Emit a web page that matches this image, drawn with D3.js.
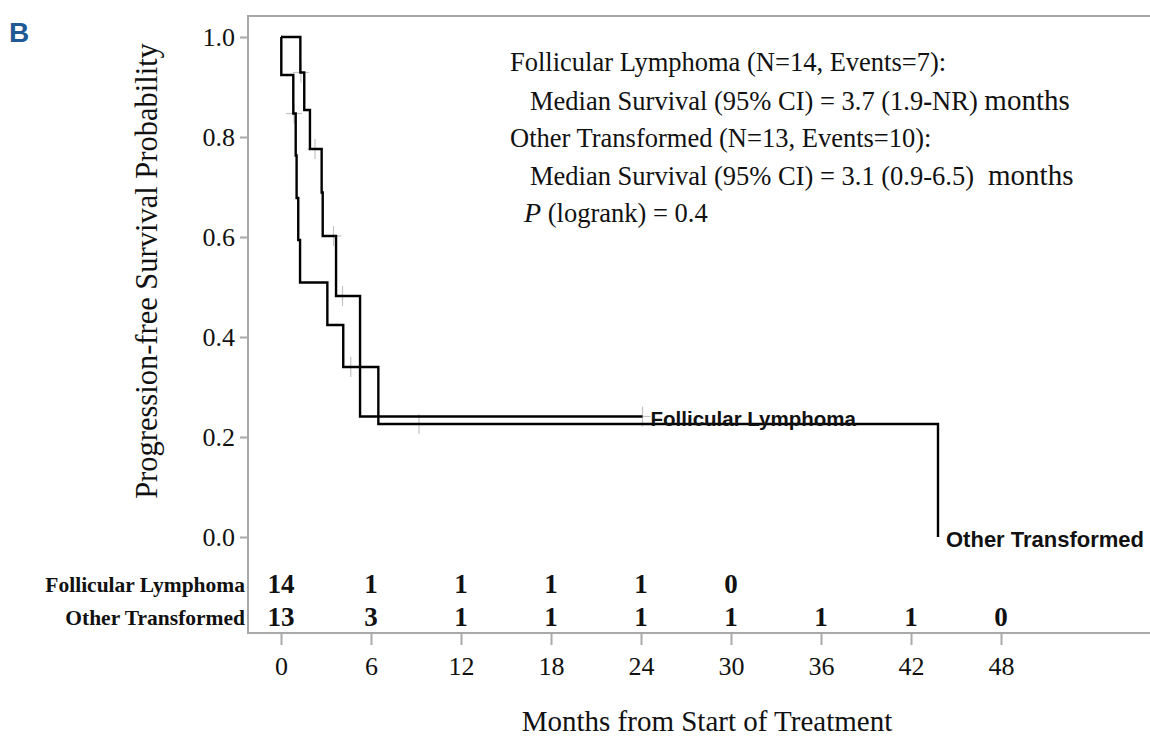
<!DOCTYPE html>
<html>
<head>
<meta charset="utf-8">
<script src="https://cdn.jsdelivr.net/npm/d3@7"></script>
<style>
  html, body { margin: 0; padding: 0; background: #fff; }
  svg { display: block; }
</style>
</head>
<body>
<svg id="chart" width="1150" height="741"></svg>
<script>
// Kaplan-Meier step data (months, survival after each step)
const flTimes = [0, 1.29, 1.55, 1.93, 2.71, 2.78, 3.67, 5.27, 24.1];
const flSurv  = [1, 0.929, 0.854, 0.776, 0.689, 0.602, 0.482, 0.241, 0.241];
const otTimes = [0, 0.02, 0.82, 0.98, 1.04, 1.15, 1.27, 3.09, 4.15, 6.49, 43.8];
const otSurv  = [1, 0.924, 0.847, 0.763, 0.678, 0.594, 0.509, 0.424, 0.340, 0.226, 0];

// censored observations
const flCensorT = [1.33, 2.27, 3.5, 4.1, 24.1];
const flCensorS = [0.929, 0.776, 0.602, 0.482, 0.241];
const otCensorT = [0.87, 4.65, 9.2];
const otCensorS = [0.847, 0.340, 0.226];

// number at risk
const riskMonths = [0, 6, 12, 18, 24, 30, 36, 42, 48];
const flAtRisk = [14, 1, 1, 1, 1, 0];
const otAtRisk = [13, 3, 1, 1, 1, 1, 1, 1, 0];
const groupNames = ["Follicular Lymphoma", "Other Transformed"];

const yTicks = [0, 0.2, 0.4, 0.6, 0.8, 1.0];
const xTicks = [0, 6, 12, 18, 24, 30, 36, 42, 48];

const svg = d3.select("#chart");
const serif = "'Liberation Serif', 'Times New Roman', serif";
const sans = "'Liberation Sans', Arial, sans-serif";

const x = d3.scaleLinear().domain([0, 48]).range([281, 1001]);
const y = d3.scaleLinear().domain([0, 1]).range([537, 37]);

const frameLeft = 248, frameTop = 16, frameBottom = 633;
const frameColor = "#a9a9a9";

// panel letter
svg.append("text")
  .attr("x", 9).attr("y", 42)
  .attr("font-family", sans).attr("font-weight", "bold")
  .attr("font-size", 28).attr("fill", "#1f5a96")
  .text("B");

// frame (left, top, bottom; open on the right)
svg.append("path")
  .attr("d", `M1152,${frameTop}H${frameLeft}V${frameBottom}H1152`)
  .attr("fill", "none").attr("stroke", frameColor).attr("stroke-width", 2);

// y axis
const yAxis = d3.axisLeft(y).tickValues(yTicks).tickFormat(d3.format(".1f"))
  .tickSize(8).tickPadding(5);
const gy = svg.append("g").attr("transform", `translate(${frameLeft},0)`).call(yAxis);
gy.select(".domain").remove();
gy.selectAll(".tick line").attr("stroke", frameColor).attr("stroke-width", 2);
gy.selectAll(".tick text").attr("font-family", serif).attr("font-size", 26).attr("fill", "#111");

// x axis
const xAxis = d3.axisBottom(x).tickValues(xTicks).tickSize(12).tickPadding(12);
const gx = svg.append("g").attr("transform", `translate(0,${frameBottom})`).call(xAxis);
gx.select(".domain").remove();
gx.selectAll(".tick line").attr("stroke", frameColor).attr("stroke-width", 2);
gx.selectAll(".tick text").attr("font-family", serif).attr("font-size", 26).attr("fill", "#111");

// axis titles
svg.append("text")
  .attr("transform", "translate(157,271) rotate(-90)")
  .attr("text-anchor", "middle")
  .attr("font-family", serif).attr("font-size", 30.5).attr("fill", "#111")
  .text("Progression-free Survival Probability");
svg.append("text")
  .attr("x", 707).attr("y", 731)
  .attr("text-anchor", "middle")
  .attr("font-family", serif).attr("font-size", 29).attr("fill", "#111")
  .text("Months from Start of Treatment");

// censor marks
function drawCensors(ts, ss) {
  const g = svg.append("g").attr("stroke", "#c4c4c4").attr("stroke-width", 1.2);
  ts.forEach((t, i) => {
    const cx = x(t), cy = y(ss[i]);
    g.append("line").attr("x1", cx - 8).attr("x2", cx + 8).attr("y1", cy).attr("y2", cy);
    g.append("line").attr("x1", cx).attr("x2", cx).attr("y1", cy - 10).attr("y2", cy + 10);
  });
}
drawCensors(flCensorT, flCensorS);
drawCensors(otCensorT, otCensorS);

// survival curves
const step = d3.line().x(d => x(d[0])).y(d => y(d[1])).curve(d3.curveStepAfter);
function drawCurve(ts, ss) {
  svg.append("path")
    .attr("d", step(ts.map((t, i) => [t, ss[i]])))
    .attr("fill", "none").attr("stroke", "#000").attr("stroke-width", 2.4);
}
drawCurve(flTimes, flSurv);
drawCurve(otTimes, otSurv);

// curve end labels
svg.append("text")
  .attr("x", x(flTimes[flTimes.length - 1]) + 8).attr("y", y(flSurv[flSurv.length - 1]) + 9)
  .attr("font-family", sans).attr("font-weight", "bold").attr("font-size", 20.5).attr("fill", "#111")
  .text(groupNames[0]);
svg.append("text")
  .attr("x", x(otTimes[otTimes.length - 1]) + 8).attr("y", y(0) + 10)
  .attr("font-family", sans).attr("font-weight", "bold").attr("font-size", 22).attr("fill", "#111")
  .text(groupNames[1]);

// summary statistics
const stats = svg.append("g").attr("font-family", serif).attr("font-size", 26.5).attr("fill", "#111");
stats.append("text").attr("x", 510).attr("y", 71).text("Follicular Lymphoma (N=14, Events=7):");
const m1 = stats.append("text").attr("x", 530).attr("y", 110);
m1.append("tspan").text("Median Survival (95% CI) = 3.7 (1.9");
m1.append("tspan").attr("font-weight", "bold").text("-");
m1.append("tspan").text("NR) ");
m1.append("tspan").attr("font-size", 29).text("months");
stats.append("text").attr("x", 510).attr("y", 147).text("Other Transformed (N=13, Events=10):");
const m2 = stats.append("text").attr("x", 530).attr("y", 185);
m2.append("tspan").text("Median Survival (95% CI) = 3.1 (0.9-6.5)");
m2.append("tspan").attr("dx", 14).attr("font-size", 29).text("months");
const p = stats.append("text").attr("x", 524).attr("y", 222);
p.append("tspan").attr("font-style", "italic").attr("font-size", 28).text("P");
p.append("tspan").text(" (logrank) = 0.4");

// number-at-risk table
const risk = svg.append("g");
[flAtRisk, otAtRisk].forEach((row, r) => {
  const yy = 593 + r * 33;
  risk.append("text")
    .attr("x", 245).attr("y", yy - 1)
    .attr("text-anchor", "end")
    .attr("font-family", serif).attr("font-weight", "bold").attr("font-size", 21.5).attr("fill", "#111")
    .text(groupNames[r]);
  row.forEach((n, i) => {
    risk.append("text")
      .attr("x", x(riskMonths[i])).attr("y", yy)
      .attr("text-anchor", "middle")
      .attr("font-family", serif).attr("font-weight", "bold").attr("font-size", 27).attr("fill", "#111")
      .text(n);
  });
});
</script>
</body>
</html>
